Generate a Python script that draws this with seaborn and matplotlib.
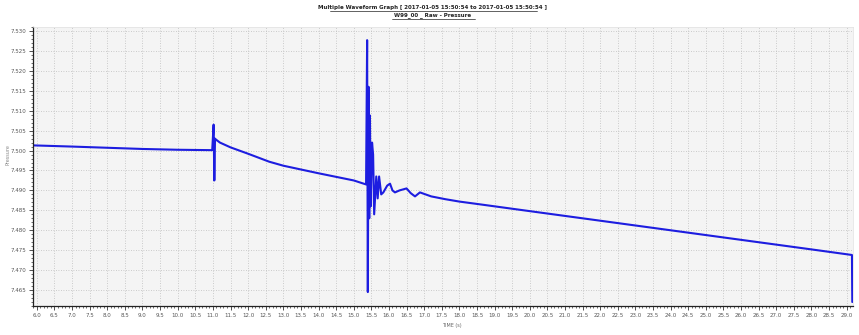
import matplotlib
matplotlib.use("Agg")
import matplotlib.pyplot as plt
import seaborn as sns
import pandas as pd
from matplotlib.ticker import MultipleLocator, FormatStrFormatter

# ---- data ----
time_s = [5.89, 7.0, 8.0, 9.0, 10.0, 10.98,
          11.02, 11.04, 11.06, 11.08, 11.2, 11.5, 12.0, 12.6, 13.0, 14.0, 15.0, 15.35,
          15.38, 15.40, 15.42, 15.44, 15.46, 15.48, 15.52, 15.55, 15.58, 15.64, 15.68,
          15.72, 15.78, 15.84, 15.95, 16.03, 16.10, 16.17, 16.30, 16.50, 16.62, 16.74,
          16.88, 17.2, 17.6, 18.0, 18.59, 20.0, 22.0, 24.0, 26.0, 28.0, 29.15, 29.16]
pressure = [7.5013, 7.5010, 7.5007, 7.5004, 7.5002, 7.5001,
            7.5065, 7.4925, 7.5030, 7.5028, 7.5020, 7.5008, 7.4992, 7.4972, 7.4962, 7.4943, 7.4925, 7.4915,
            7.5277, 7.4645, 7.5160, 7.4830, 7.5088, 7.4860, 7.5020, 7.4990, 7.4840, 7.4935, 7.4880,
            7.4935, 7.4890, 7.4895, 7.4912, 7.4917, 7.4900, 7.4895, 7.4900, 7.4905, 7.4893, 7.4885,
            7.4895, 7.4885, 7.4878, 7.4872, 7.4865, 7.4848, 7.4824, 7.4800, 7.4776, 7.4752, 7.4738, 7.4620]

title_lines = ["Multiple Waveform Graph [ 2017-01-05 15:50:54 to 2017-01-05 15:50:54 ]",
               "W99_00 _ Raw - Pressure"]
x_label = "TIME (s)"
y_label = "Pressure"

df = pd.DataFrame({"t": time_s, "p": pressure})

sns.set_theme(style="white")
plt.rcParams['font.family'] = ['DejaVu Sans']

fig = plt.figure(figsize=(8.59, 3.35), dpi=100)
ax = fig.add_axes([33 / 859, 1 - 306 / 335, (853 - 33) / 859, (306 - 27) / 335])
ax.set_facecolor("#f4f4f4")

sns.lineplot(data=df, x="t", y="p", ax=ax, color="#1d1de0", lw=1.5,
             estimator=None, sort=False)

ax.set_xlim(5.89, 29.18)
ax.set_ylim(7.461, 7.531)
ax.xaxis.set_major_locator(MultipleLocator(0.5))
ax.xaxis.set_minor_locator(MultipleLocator(0.1))
ax.yaxis.set_major_locator(MultipleLocator(0.005))
ax.yaxis.set_minor_locator(MultipleLocator(0.001))
ax.xaxis.set_major_formatter(FormatStrFormatter("%.1f"))
ax.yaxis.set_major_formatter(FormatStrFormatter("%.3f"))
ax.tick_params(axis="both", which="major", labelsize=4, length=3, width=0.6,
               color="#333333", labelcolor="#555555", pad=2, direction="out",
               bottom=True, left=True)
ax.tick_params(axis="both", which="minor", length=1.5, width=0.5, color="#333333",
               direction="out", bottom=True, left=True)
ax.grid(True, which="major", color="#bdbdbd", linestyle=(0, (1, 2)), linewidth=0.6)

for side in ["left", "bottom"]:
    ax.spines[side].set_color("#222222")
    ax.spines[side].set_linewidth(0.9)
for side in ["top", "right"]:
    ax.spines[side].set_color("#e0e0e0")
    ax.spines[side].set_linewidth(0.5)

ax.set_xlabel("")
ax.set_ylabel("")
fig.text(452 / 859, 1 - 326 / 335, x_label, fontsize=3.5, color="#666666",
         ha="center", va="center")
fig.text(8 / 859, 1 - 155 / 335, y_label, fontsize=3.5, color="#888888",
         ha="center", va="center", rotation=90)

fig.text(433 / 859, 1 - 7 / 335, title_lines[0], fontsize=4, fontweight="bold",
         color="#222222", ha="center", va="center")
fig.text(433 / 859, 1 - 15 / 335, title_lines[1], fontsize=4, fontweight="bold",
         color="#222222", ha="center", va="center")
# underlines under title lines
fig.add_artist(plt.Line2D([330 / 859, 537 / 859], [1 - 10.5 / 335] * 2, color="#222222", lw=0.5))
fig.add_artist(plt.Line2D([392 / 859, 475 / 859], [1 - 18.5 / 335] * 2, color="#222222", lw=0.5))

fig.savefig("out.png", dpi=100, facecolor="white")
